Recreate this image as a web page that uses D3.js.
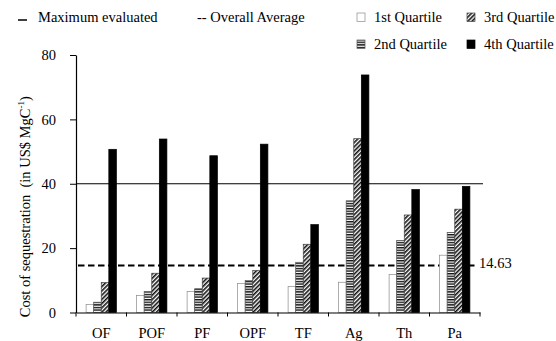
<!DOCTYPE html>
<html>
<head>
<meta charset="utf-8">
<script src="https://cdn.jsdelivr.net/npm/d3@7"></script>
<style>
  html, body { margin: 0; padding: 0; background: #fff; }
  svg { display: block; }
  svg text { font-family: "Liberation Serif", "Times New Roman", serif; fill: #000; }
</style>
</head>
<body>
<svg id="chart" width="556" height="341"></svg>
<script>
// Cost of carbon sequestration by land-use class, per quartile (US$ per MgC)
const categories = ["OF", "POF", "PF", "OPF", "TF", "Ag", "Th", "Pa"];
const quartile1 = [2.5, 5.3, 6.5, 9.0, 8.1, 9.4, 11.8, 17.8];
const quartile2 = [3.2, 6.5, 7.4, 9.9, 15.6, 34.7, 22.4, 24.9];
const quartile3 = [9.3, 12.2, 10.7, 13.1, 21.2, 54.0, 30.3, 32.1];
const quartile4 = [50.7, 53.9, 48.7, 52.3, 27.3, 73.8, 38.2, 39.2];
const seriesNames = ["1st Quartile", "2nd Quartile", "3rd Quartile", "4th Quartile"];
const maximumEvaluated = 40;
const overallAverage = 14.63;
const yTicks = [0, 20, 40, 60, 80];

const svg = d3.select("#chart");
const fontSize = "14.5px";

const plot = { left: 76, right: 480, top: 55, bottom: 312.5 };

const x0 = d3.scaleBand()
  .domain(categories)
  .range([plot.left, plot.right])
  .paddingInner(0.4)
  .paddingOuter(0.2);

const x1 = d3.scaleBand()
  .domain(seriesNames)
  .range([0, x0.bandwidth()]);

const y = d3.scaleLinear().domain([0, 80]).range([plot.bottom, plot.top]);

// fill patterns
const defs = svg.append("defs");
const stripes = defs.append("pattern")
  .attr("id", "stripes")
  .attr("patternUnits", "userSpaceOnUse")
  .attr("width", 6).attr("height", 2.6);
stripes.append("rect").attr("width", 6).attr("height", 2.6).attr("fill", "#fff");
stripes.append("rect").attr("y", 0).attr("width", 6).attr("height", 1.4).attr("fill", "#111");

const hatch = defs.append("pattern")
  .attr("id", "hatch")
  .attr("patternUnits", "userSpaceOnUse")
  .attr("width", 3).attr("height", 3)
  .attr("patternTransform", "rotate(45)");
hatch.append("rect").attr("width", 3).attr("height", 3).attr("fill", "#fff");
hatch.append("line").attr("x1", 0.8).attr("y1", 0).attr("x2", 0.8).attr("y2", 3)
  .attr("stroke", "#111").attr("stroke-width", 1.6);

const fills = ["#fff", "url(#stripes)", "url(#hatch)", "#000"];
const strokes = ["#8a8a8a", "#555", "#444", "#000"];

// reference lines (drawn beneath the bars)
svg.append("line")
  .attr("x1", plot.left).attr("x2", 483)
  .attr("y1", y(maximumEvaluated)).attr("y2", y(maximumEvaluated))
  .attr("stroke", "#000").attr("stroke-width", 1.2);

svg.append("line")
  .attr("x1", plot.left + 2).attr("x2", 478)
  .attr("y1", y(overallAverage)).attr("y2", y(overallAverage))
  .attr("stroke", "#000").attr("stroke-width", 2)
  .attr("stroke-dasharray", "6.5,3.5");

svg.append("text")
  .attr("x", 479).attr("y", y(overallAverage) + 3)
  .attr("font-size", fontSize)
  .text(overallAverage.toFixed(2));

// bars
const series = [quartile1, quartile2, quartile3, quartile4];
const groups = svg.append("g").selectAll("g")
  .data(categories)
  .join("g")
  .attr("transform", d => `translate(${x0(d)},0)`);

groups.selectAll("rect")
  .data((d, i) => series.map((s, k) => ({ name: seriesNames[k], k, value: s[i] })))
  .join("rect")
  .attr("x", d => x1(d.name))
  .attr("width", x1.bandwidth())
  .attr("y", d => y(d.value))
  .attr("height", d => y(0) - y(d.value))
  .attr("fill", d => fills[d.k])
  .attr("stroke", d => strokes[d.k])
  .attr("stroke-width", 0.7);

// y axis
const yAxis = d3.axisLeft(y).tickValues(yTicks).tickSize(6).tickSizeOuter(0).tickPadding(14);
const gy = svg.append("g").attr("transform", `translate(${plot.left},0)`).call(yAxis);
gy.select(".domain").attr("stroke", "#000").attr("stroke-width", 1.2);
gy.selectAll(".tick line").attr("stroke", "#000");
gy.selectAll(".tick text").attr("font-size", fontSize);

// x axis: labels centred on groups, tick marks on group boundaries
const xAxis = d3.axisBottom(x0).tickSize(0).tickSizeOuter(0).tickPadding(15);
const gx = svg.append("g").attr("transform", `translate(0,${plot.bottom})`).call(xAxis);
gx.select(".domain").attr("stroke", "#000").attr("stroke-width", 1.2);
gx.selectAll(".tick text").attr("font-size", fontSize);

const step = x0.step();
const boundaries = d3.range(categories.length + 1).map(i => plot.left + i * step);
gx.selectAll(".boundary")
  .data(boundaries)
  .join("line")
  .attr("class", "boundary")
  .attr("x1", d => d).attr("x2", d => d)
  .attr("y1", 0).attr("y2", 4)
  .attr("stroke", "#000").attr("stroke-width", 1);

// y axis title
const yTitle = svg.append("text")
  .attr("transform", `translate(30,${(plot.top + plot.bottom) / 2 + 23}) rotate(-90)`)
  .attr("text-anchor", "middle")
  .attr("font-size", fontSize);
yTitle.append("tspan").text("Cost of sequestration\u00a0 (in US$ MgC");
yTitle.append("tspan").attr("font-size", "9px").attr("dy", -6).text("-1");
yTitle.append("tspan").attr("dy", 6).text(")");

// legend
const legend = svg.append("g").attr("font-size", fontSize);
legend.append("line").attr("x1", 18).attr("x2", 27).attr("y1", 20).attr("y2", 20)
  .attr("stroke", "#000").attr("stroke-width", 1.5);
legend.append("text").attr("x", 38).attr("y", 22).text("Maximum evaluated");
legend.append("text").attr("x", 197).attr("y", 22).text("-- Overall Average");

const legendPos = [
  { x: 357, y: 13 },   // 1st
  { x: 357, y: 40 },   // 2nd
  { x: 467, y: 13 },   // 3rd
  { x: 467, y: 40 }    // 4th
];
seriesNames.forEach((name, k) => {
  const p = legendPos[k];
  legend.append("rect")
    .attr("x", p.x).attr("y", p.y).attr("width", 8).attr("height", 8.5)
    .attr("fill", fills[k]).attr("stroke", strokes[k]).attr("stroke-width", 0.7);
  legend.append("text").attr("x", p.x + 17).attr("y", p.y + 9).text(name);
});
</script>
</body>
</html>
